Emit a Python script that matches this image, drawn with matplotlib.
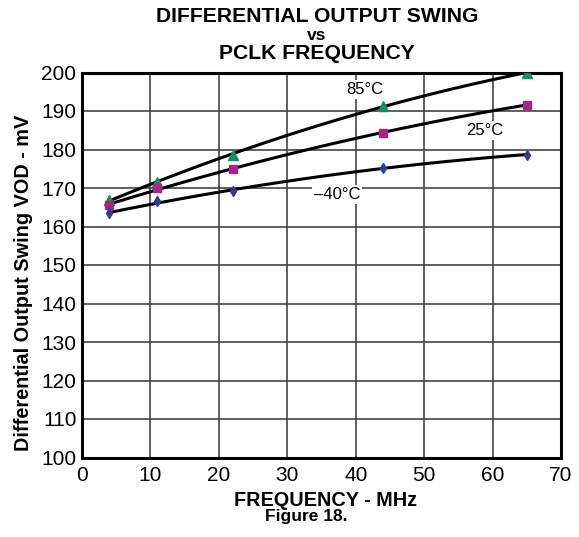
import matplotlib
matplotlib.use('Agg')
import matplotlib.pyplot as plt
import numpy as np

plt.rcParams['font.family'] = ['Liberation Sans', 'DejaVu Sans']

FREQ = [4, 11, 22, 44, 65]
VOD_85C = [166.8, 171.6, 178.6, 191.4, 199.9]
VOD_25C = [165.6, 169.9, 174.9, 184.4, 191.6]
VOD_M40C = [163.4, 166.5, 169.3, 175.1, 178.7]

SERIES = [
    ('85°C', VOD_85C, '^', '#12925a', 7, (41.3, 195.6)),
    ('25°C', VOD_25C, 's', '#b01e8e', 5.5, (58.8, 185.0)),
    ('\u201340°C', VOD_M40C, 'd', '#2e3a98', 5, (37.3, 168.4)),
]

fig = plt.figure(figsize=(5.79, 5.37), dpi=100)
ax = fig.add_axes([82 / 579, 1 - 457.5 / 537, 479 / 579, 385 / 537])

for label, vals, marker, color, ms, (tx, ty) in SERIES:
    # smooth curve fitted through the measured points
    coef = np.polyfit(FREQ, vals, 2)
    xs = np.linspace(FREQ[0], FREQ[-1], 100)
    ax.plot(xs, np.polyval(coef, xs), color='black', lw=2.2, zorder=3)
    ax.plot(FREQ, vals, linestyle='none', marker=marker, color=color,
            markersize=ms, markeredgecolor=color, zorder=4)
    ax.text(tx, ty, label, fontsize=12, ha='center', va='center', zorder=5,
            bbox=dict(facecolor='white', edgecolor='none', pad=1.5))

ax.set_xlim(0, 70)
ax.set_ylim(100, 200)
ax.set_xticks(np.arange(0, 71, 10))
ax.set_yticks(np.arange(100, 201, 10))
ax.tick_params(axis='y', length=0, labelsize=15, pad=4)
ax.tick_params(axis='x', length=0, labelsize=15, pad=6)
ax.grid(True, color='#444444', lw=1.2)
ax.set_axisbelow(True)
for s in ax.spines.values():
    s.set_linewidth(2.2)

ax.set_ylabel('Differential Output Swing VOD - mV', fontsize=14.3,
              fontweight='bold')
ax.yaxis.set_label_coords(-49 / 479, 0.453)
fig.text(326 / 579, 1 - 500 / 537, 'FREQUENCY - MHz', fontsize=14.3,
         fontweight='bold', ha='center', va='center')
fig.text(306 / 579, 1 - 517 / 537, 'Figure 18.', fontsize=12.5,
         fontweight='bold', ha='center', va='center')

fig.text(317 / 579, 1 - 17 / 537, 'DIFFERENTIAL OUTPUT SWING', fontsize=15.2,
         fontweight='bold', ha='center', va='center')
fig.text(317 / 579, 1 - 36 / 537, 'vs', fontsize=12.5, fontweight='bold',
         ha='center', va='center')
fig.text(317 / 579, 1 - 53 / 537, 'PCLK FREQUENCY', fontsize=15.2,
         fontweight='bold', ha='center', va='center')

fig.savefig('out.png', dpi=100)
